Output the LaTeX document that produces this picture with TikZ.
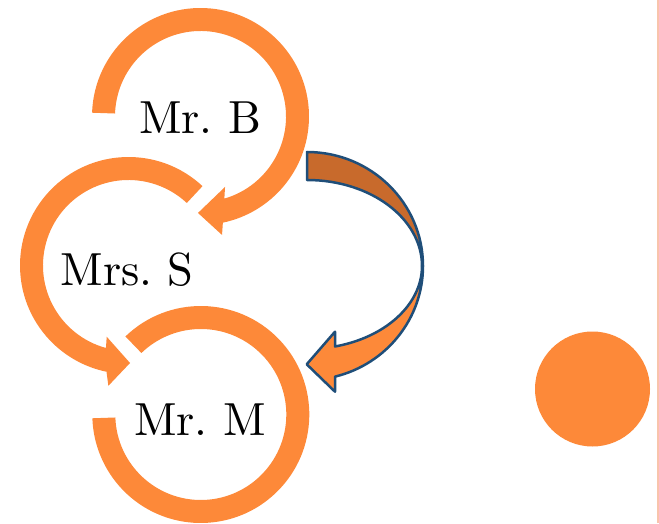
\documentclass[tikz,border=0pt]{standalone}
\usepackage{fontspec}
\usetikzlibrary{calc}
% the 10pt design of Latin Modern, kept at every size
\newfontfamily\lmten{lmroman10-regular.otf}
\definecolor{ringorange}{RGB}{253,137,57}
\definecolor{backorange}{RGB}{200,106,44}
\definecolor{edgeblue}{RGB}{31,78,121}
\definecolor{railpink}{RGB}{249,196,172}
\tikzset{
  ring/.style={fill=ringorange},
  lbl/.style={inner sep=0pt, font=\lmten\fontsize{46.4}{50}\selectfont\frenchspacing, text=black},
  bandback/.style={fill=backorange, draw=edgeblue, line width=2.5pt, line join=round},
  bandfront/.style={fill=ringorange, draw=edgeblue, line width=2.5pt, line join=round},
}
% outer / inner radius of the ring arrows
\def\Ro{108.5}
\def\Ri{85.5}
\begin{document}
\begin{tikzpicture}[x=1pt,y=1pt]
\useasboundingbox (0,0) rectangle (659,523);

% ring centres
\coordinate (cb) at (200.5,406.5);
\coordinate (cs) at (128.5,257.5);
\coordinate (cm) at (200.8,108.5);

% Mr. B ring, clockwise, head pointing at Mrs. S
\fill[ring] ($(cb)+(178:\Ro)$) arc[start angle=178, end angle=-78.1, radius=\Ro]
  -- ($(cb)+(-79.7:120.4)$) -- ($(cb)+(-91.5:96.5)$) -- ($(cb)+(-70.8:74.6)$)
  -- ($(cb)+(-73.8:\Ri)$) arc[start angle=-73.8, end angle=178, radius=\Ri] -- cycle;

% Mrs. S ring, counter-clockwise, head pointing at Mr. M
\fill[ring] ($(cs)+(47:\Ro)$) arc[start angle=47, end angle=258.3, radius=\Ro]
  -- ($(cs)+(260.5:122)$) -- ($(cs)+(270.9:97.5)$) -- ($(cs)+(253:74.5)$)
  -- ($(cs)+(254.7:\Ri)$) arc[start angle=254.7, end angle=47, radius=\Ri] -- cycle;

% Mr. M ring, no head
\fill[ring] ($(cm)+(134:\Ro)$) arc[start angle=134, end angle=-178, radius=\Ro]
  -- ($(cm)+(-178:\Ri)$) arc[start angle=-178, end angle=134, radius=\Ri] -- cycle;

% labels
\node[lbl] (mrb) at (200,405.4) {Mr. B};
\node[lbl] (mrss) at (127.2,253.7) {Mrs. S};
\node[lbl] (mrm) at (200,103.6) {Mr. M};

% curved arrow from Mr. B round to Mr. M
\coordinate (ec) at (307,257);
\draw[bandback] ($(ec)+(0,114)$) arc[start angle=90, end angle=0, x radius=116, y radius=114]
  -- ($(ec)+(115,0)$) arc[start angle=0, end angle=90, x radius=115, y radius=86] -- cycle;
\draw[bandfront] ($(ec)+(116,0)$) arc[start angle=0, end angle=-76, x radius=116, y radius=114]
  -- (335,131.3) -- (306.7,158.7) -- (335,191.3)
  -- ($(ec)+(-75.9:115 and 83)$) arc[start angle=-75.9, end angle=0, x radius=115, y radius=83] -- cycle;

% dot and rule on the right
\fill[ring] (592.5,134) circle[radius=57.5];
\draw[railpink, line width=1.5pt] (658.2,0) -- (658.2,523);
\end{tikzpicture}
\end{document}
